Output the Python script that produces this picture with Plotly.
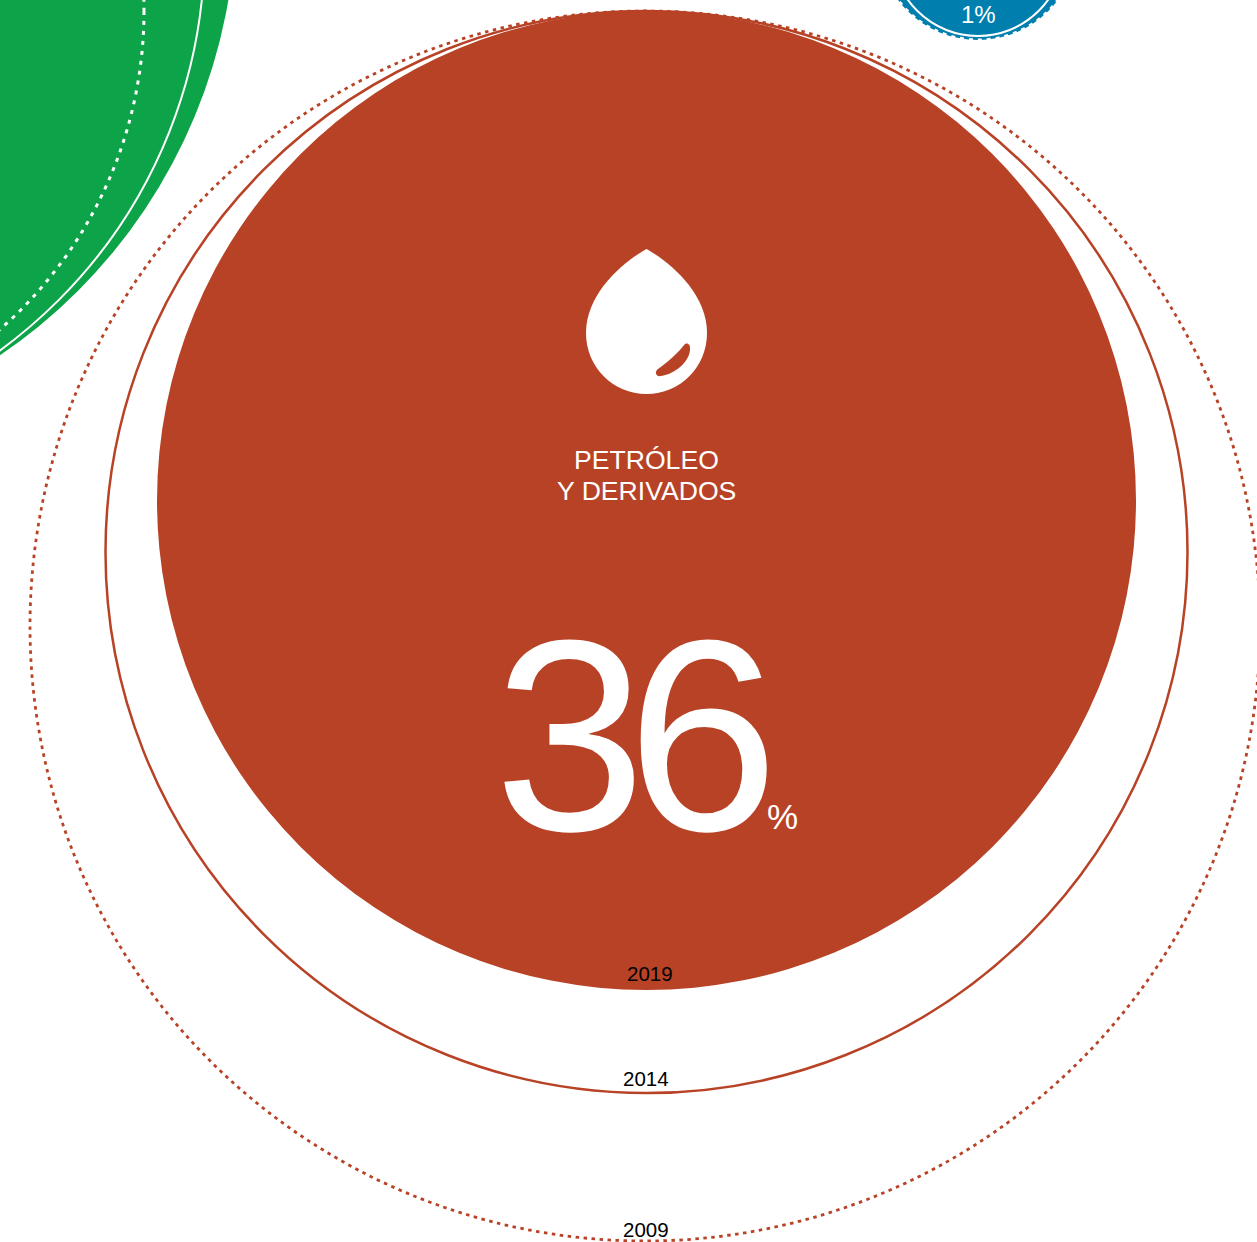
import plotly.graph_objects as go

W, H = 1257, 1242
RED, GREEN, BLUE = "#B84226", "#0DA348", "#007FAE"

# Petróleo y derivados: circle per year
oil_years = ["2009", "2014", "2019"]
oil_cx = [645, 646.5, 646.5]
oil_cy = [626, 552, 500.5]
oil_r = [615, 541, 489.5]
year_x = [646, 646, 650]
year_y = [1229, 1078, 973]

# Neighbouring circles, cropped by the frame (2019, 2014, 2009)
green_cx = [-303, -293.5, -280]
green_cy = [-90.5, -52, 11]
green_r = [539, 498, 424]
blue_cx = [978, 978, 978]
blue_cy = [-60, -50, -60]
blue_r = [100, 86, 100]

title_lines = ["PETRÓLEO", "Y DERIVADOS"]
title_y = [459.5, 491]
main_value = "36"
blue_value = "1%"

DROP = ("M 646.5 249 C 625 261, 586 292, 586 333 C 586 367, 613 394, 646.5 394 "
        "C 680 394, 707 367, 707 333 C 707 292, 668 261, 646.5 249 Z")
GLINT = "M 684 345 C 679 352, 668 362, 658 369 C 654 372, 656 377, 661 376 C 675 374, 689 362, 690 350 C 691 343, 686 342, 684 345 Z"


def circle(cx, cy, r, fill=None, color=None, width=0, dash="solid"):
    return dict(type="circle", xref="x", yref="y", x0=cx - r, x1=cx + r, y0=cy - r, y1=cy + r,
                fillcolor=fill if fill else "rgba(0,0,0,0)",
                line=dict(color=color if color else "rgba(0,0,0,0)", width=width, dash=dash))


shapes = [
    circle(oil_cx[0], oil_cy[0], oil_r[0], color=RED, width=2.8, dash="3.5px,4.5px"),
    circle(oil_cx[1], oil_cy[1], oil_r[1], color=RED, width=2.5),
    circle(oil_cx[2], oil_cy[2], oil_r[2], fill=RED),
    circle(green_cx[0], green_cy[0], green_r[0], fill=GREEN),
    circle(green_cx[1], green_cy[1], green_r[1], color="white", width=2),
    circle(green_cx[2], green_cy[2], green_r[2], color="white", width=3, dash="4px,6px"),
    circle(blue_cx[0], blue_cy[0], blue_r[0], fill=BLUE),
    circle(blue_cx[1], blue_cy[1], blue_r[1], color="white", width=2),
    circle(blue_cx[2], blue_cy[2], blue_r[2], color="white", width=3, dash="4px,5px"),
    dict(type="path", xref="x", yref="y", path=DROP, fillcolor="white", line=dict(width=0)),
    dict(type="path", xref="x", yref="y", path=GLINT, fillcolor=RED, line=dict(width=0)),
]


def label(x, y, text, size, color="white"):
    return dict(x=x, y=y, xref="x", yref="y", text=text, showarrow=False, xanchor="center", yanchor="middle",
                font=dict(family="Liberation Sans", size=size, color=color))


annotations = [label(646, y, t, 26.6) for t, y in zip(title_lines, title_y)]
annotations.append(label(630.5, 735.5, f'<span style="letter-spacing:-19px">{main_value}</span>', 273))
annotations.append(label(782, 816, "%", 35))
annotations.append(label(978, 14, blue_value, 24))
annotations += [label(x, y, t, 20.5, "black") for x, y, t in zip(year_x, year_y, oil_years)]

fig = go.Figure()
fig.update_layout(
    width=W, height=H, margin=dict(l=0, r=0, t=0, b=0),
    paper_bgcolor="white", plot_bgcolor="white", showlegend=False,
    xaxis=dict(range=[0, W], visible=False, fixedrange=True),
    yaxis=dict(range=[H, 0], visible=False, fixedrange=True),
    shapes=shapes, annotations=annotations,
)
fig.write_html("out.html", config=dict(displayModeBar=False),
               post_script="document.body.style.margin='0';document.body.style.overflow='hidden';")
